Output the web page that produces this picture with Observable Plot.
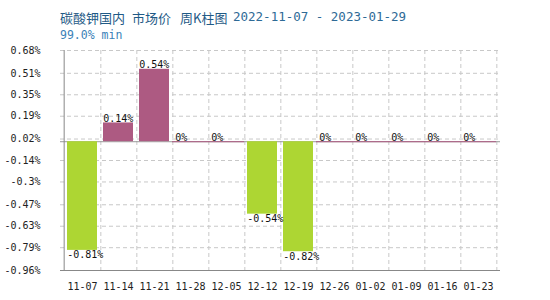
<!DOCTYPE html>
<html><head><meta charset="utf-8">
<script src="https://cdn.jsdelivr.net/npm/d3@7"></script>
<script src="https://cdn.jsdelivr.net/npm/@observablehq/plot@0.6"></script>
<style>
body{margin:0;background:#fff;}
#wrap{position:relative;width:550px;height:300px;}
.t{position:absolute;top:8px;font:13px "Noto Sans CJK SC",sans-serif;color:#1f5a86;white-space:pre;}
.d{font-family:"DejaVu Sans Mono",monospace;font-size:12.5px;color:#2e6a96;top:9px;}
#sub{position:absolute;left:60px;top:28px;font:11.5px "DejaVu Sans Mono",monospace;color:#3b82b8;}
</style></head>
<body><div id="wrap">
<div class="t" style="left:60px">碳酸钾国内</div>
<div class="t" style="left:132px">市场价</div>
<div class="t" style="left:180px">周K柱图</div>
<div class="t d" style="left:233px">2022-11-07 - 2023-01-29</div>
<div id="sub">99.0% min</div><div id="chart"></div></div>
<script>
const weeks = ["11-07","11-14","11-21","11-28","12-05","12-12","12-19","12-26","01-02","01-09","01-16","01-23"];
const changes = [-0.81, 0.14, 0.54, 0, 0, -0.54, -0.82, 0, 0, 0, 0, 0];
const yTicks = [0.68, 0.51, 0.35, 0.19, 0.02, -0.14, -0.3, -0.47, -0.63, -0.79, -0.96];

const data = weeks.map((w, i) => ({week: w, v: changes[i]}));
const W = 550, H = 300, mL = 60, mR = 50, mT = 50, mB = 30;
const bw = (W - mL - mR) / weeks.length;
const up = "#ad5a82", down = "#add633";
const font = "DejaVu Sans Mono, monospace";

const chart = Plot.plot({
  width: W, height: H,
  marginLeft: mL, marginRight: mR, marginTop: mT, marginBottom: mB,
  style: {fontFamily: font, fontSize: "10px", color: "#222", background: "#fff"},
  x: {domain: weeks, padding: 0, label: null},
  y: {domain: [-0.96, 0.68], label: null},
  marks: [
    Plot.ruleY(yTicks, {stroke: "#c8c8c8", strokeDasharray: "4,3"}),
    Plot.ruleX(weeks, {x: d => d, dx: bw / 2, stroke: "#c8c8c8", strokeDasharray: "4,3"}),
    Plot.ruleY([0], {stroke: "#999"}),
    Plot.barY(data.filter(d => d.v !== 0), {x: "week", y: "v", fill: d => d.v > 0 ? up : down, insetLeft: 3, insetRight: 3}),
    Plot.tickY(data.filter(d => d.v === 0), {x: "week", y: "v", stroke: up, strokeWidth: 1}),
    Plot.text(data.filter(d => d.v >= 0), {x: "week", y: "v", text: d => d.v + "%", textAnchor: "start", dx: -bw / 2 + 3,
      dy: -1, fill: "#111", fontSize: 10, lineAnchor: "bottom"}),
    Plot.text(data.filter(d => d.v < 0), {x: "week", y: "v", text: d => d.v + "%", textAnchor: "start", dx: -bw / 2 + 3,
      dy: 1, fill: "#111", fontSize: 10, lineAnchor: "top"}),
    Plot.ruleY([-0.96], {stroke: "#888"}),
    Plot.ruleX([weeks[0]], {dx: -bw / 2, stroke: "#888"}),
    Plot.axisY({ticks: yTicks, tickFormat: d => d + "%", tickSize: 0, tickPadding: 20, fontSize: 10, label: null}),
    Plot.axisX({tickSize: 0, tickPadding: 12, fontSize: 10, label: null})
  ]
});
document.getElementById("chart").append(chart);
</script></body></html>
